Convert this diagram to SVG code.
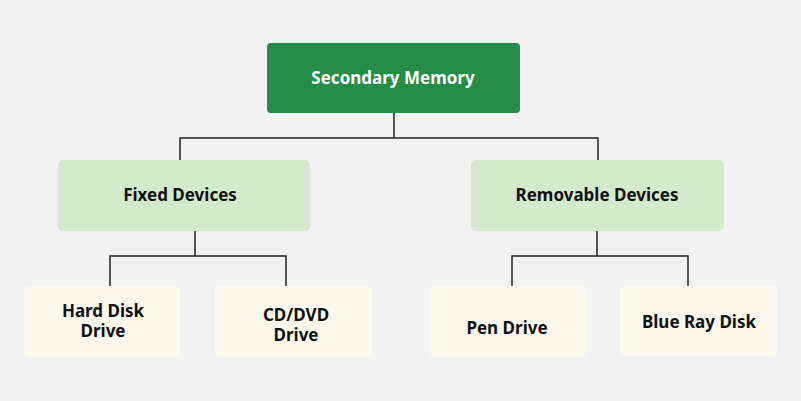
<svg xmlns="http://www.w3.org/2000/svg" width="801" height="401" viewBox="0 0 801 401">
<style>
text{font-family:"Noto Sans","Open Sans",sans-serif;font-weight:bold;font-size:17px;text-anchor:middle;fill:#111}
.c{fill:none;stroke:#222;stroke-width:1.5}
.mid{fill:#d3ebcc}
.leaf{fill:#fcf8eb}
</style>
<rect width="801" height="401" fill="#f2f2f2"/>
<g id="connectors">
<path class="c" d="M394 113V138M180 160V138H598V160"/>
<path class="c" d="M195 231V256M110 286V256H286V286"/>
<path class="c" d="M597 231V256M512 286V256H688V286"/>
</g>
<g id="root"><rect x="267" y="43" width="253" height="70" rx="4" fill="#248d47"/><text x="393" y="84" style="fill:#fff">Secondary Memory</text></g>
<g id="fixed"><rect class="mid" x="58" y="160" width="252" height="71" rx="5"/><text x="180" y="201">Fixed Devices</text></g>
<g id="removable"><rect class="mid" x="471" y="160" width="253" height="71" rx="5"/><text x="597" y="201">Removable Devices</text></g>
<g id="hdd"><rect class="leaf" x="24" y="286" width="156" height="71" rx="5"/><text x="103" y="317">Hard Disk</text><text x="103" y="337">Drive</text></g>
<g id="cd"><rect class="leaf" x="215" y="286" width="157" height="71" rx="5"/><text x="296" y="321">CD/DVD</text><text x="296" y="341">Drive</text></g>
<g id="pen"><rect class="leaf" x="430" y="286" width="156" height="71" rx="5"/><text x="507" y="334">Pen Drive</text></g>
<g id="blue"><rect class="leaf" x="620" y="286" width="157" height="70" rx="5"/><text x="699" y="328">Blue Ray Disk</text></g>
</svg>
